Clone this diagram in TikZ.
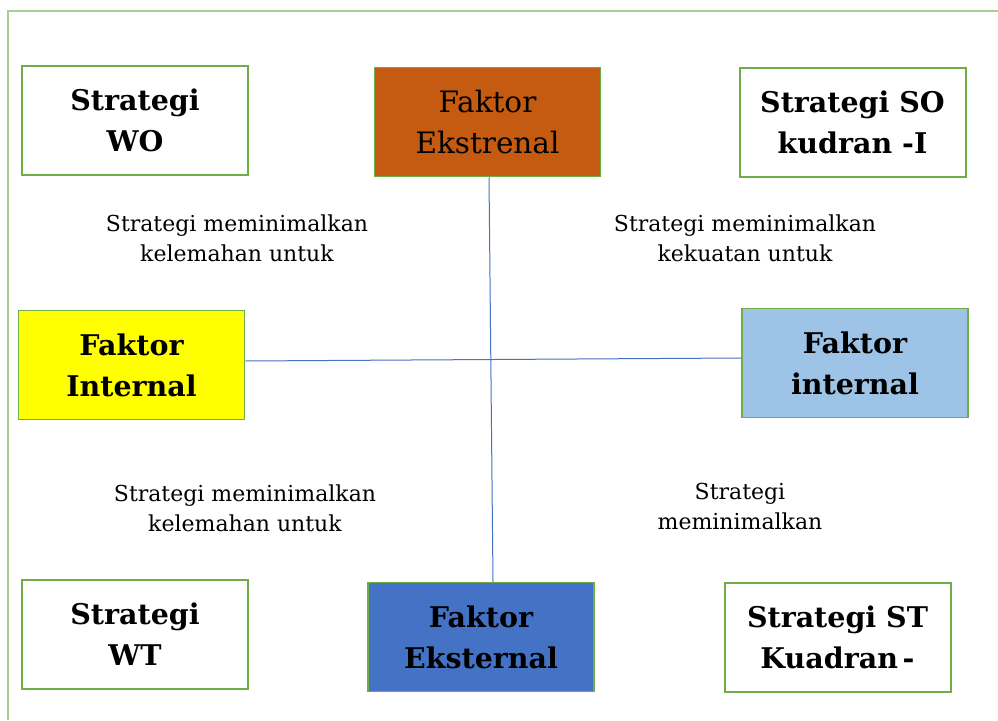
\documentclass[tikz,border=0pt]{standalone}
\usepackage{fontspec}
\setmainfont{DejaVu Serif}
\usetikzlibrary{calc}
\definecolor{frameg}{HTML}{70AD47}
\definecolor{boxorange}{HTML}{C55A11}
\definecolor{boxyellow}{HTML}{FFFF00}
\definecolor{boxlight}{HTML}{9DC3E6}
\definecolor{boxblue}{HTML}{4472C4}
\definecolor{linkblue}{HTML}{4472C4}
\tikzset{
  sbox/.style={draw=frameg, line width=2pt, minimum width=226pt, minimum height=109pt,
    align=center, inner sep=0pt, font=\fontsize{28.5}{41}\selectfont\bfseries},
  fbox/.style={sbox, line width=1.5pt},
  lbl/.style={align=center, inner sep=0pt, font=\fontsize{22}{30}\selectfont},
  link/.style={draw=linkblue, line width=1pt}
}
\begin{document}
\begin{tikzpicture}[x=1pt,y=-1pt]
\useasboundingbox (0,0) rectangle (998,720);
\draw[frameg!60, line width=1.5pt] (8,720) -- (8,11) -- (998,11);
\node[sbox] (wo) at (135,120.5) {Strategi\\WO};
\node[fbox, fill=boxorange, font=\fontsize{29.5}{41}\selectfont] (ekst) at (487.5,122) {Faktor\\Ekstrenal};
\node[sbox] (so) at (852.5,122) {Strategi SO\\kudran -I};
\node[fbox, fill=boxyellow] (intl) at (131.5,365) {Faktor\\Internal};
\node[fbox, fill=boxlight] (intr) at (855,363) {Faktor\\internal};
\node[sbox] (wt) at (135,634) {Strategi\\WT};
\node[fbox, fill=boxblue] (eksb) at (481,637) {Faktor\\Eksternal};
\node[sbox] (st) at (837.5,637) {Strategi ST\\Kuadran\,-};
\node[lbl] (l1) at (237,238) {Strategi meminimalkan\\kelemahan untuk};
\node[lbl] (l2) at (745,238) {Strategi meminimalkan\\kekuatan untuk};
\node[lbl] (l3) at (245,508) {Strategi meminimalkan\\kelemahan untuk};
\node[lbl] (l4) at (740,506) {Strategi\\meminimalkan};
\draw[link] ($(ekst.south)+(1.5,0)$) -- ($(eksb.north)+(12,0)$);
\draw[link] ($(intl.east)+(0,-4)$) -- ($(intr.west)+(0,-5)$);
\end{tikzpicture}
\end{document}
